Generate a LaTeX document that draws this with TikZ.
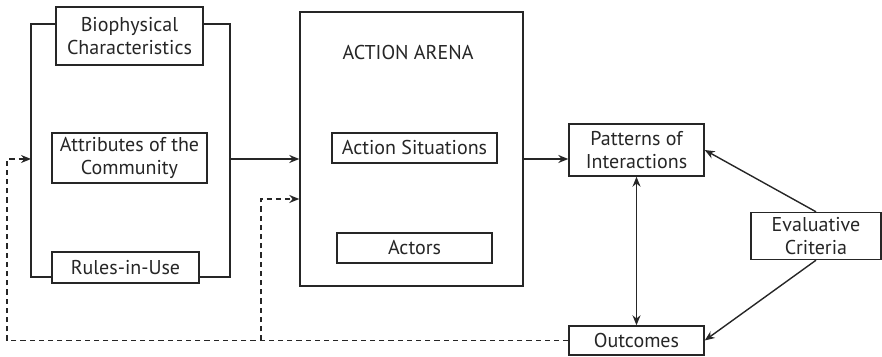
\documentclass[tikz,border=0pt]{standalone}
\usepackage{fontspec}
\setmainfont{PT Sans}
\usetikzlibrary{arrows.meta}

\tikzset{>={Stealth[length=5pt,width=4pt]},
	box/.style={draw,fill=white,align=center,inner sep=0pt,font=\fontsize{10pt}{11.5pt}\selectfont},
	feedback/.style={dash pattern=on 2.6pt off 2pt}}

\begin{document}
\begin{tikzpicture}[x=0.5pt,y=-0.5pt,line width=0.7pt,color=black!85]
		\useasboundingbox (0,0) rectangle (882,357);		% page
		
		% resource side
		\node[box,minimum width=73.5pt,minimum height=29pt] (bio) at (129.5,36) {Biophysical\\Characteristics};
		\node[box,minimum width=77.5pt,minimum height=25pt] (attr) at (129.5,158) {Attributes of the\\Community};
		\node[box,minimum width=73.5pt,minimum height=15.5pt] (rules) at (125.5,267.5) {Rules-in-Use};
		
		% bracket round the three boxes
		\coordinate (brTopL) at (31,24);
		\coordinate (brBotL) at (31,277);
		\coordinate (brTopR) at (230,24);
		\coordinate (brBotR) at (230,277);
		\coordinate (brOut) at (230,159);
		\draw (bio.west |- brTopL) -- (brTopL) -- (brBotL) -- (rules.west |- brBotL);
		\draw (bio.east |- brTopR) -- (brTopR) -- (brBotR) -- (rules.east |- brBotR);
		
		% action arena
		\node[box,minimum width=111.5pt,minimum height=137pt] (arena) at (411.5,149) {};
		\node[font=\fontsize{10pt}{12pt}\selectfont] (arenaTitle) at (408,53) {ACTION ARENA};
		\node[box,minimum width=82.5pt,minimum height=15pt] (sit) at (414.5,148) {Action Situations};
		\node[box,minimum width=77.5pt,minimum height=15pt] (actors) at (414.5,248) {Actors};
		
		% right side
		\node[box,minimum width=67.5pt,minimum height=26pt] (pat) at (636.5,150) {Patterns of\\Interactions};
		\node[box,minimum width=65pt,minimum height=23.5pt] (eval) at (816,236) {Evaluative\\Criteria};
		\node[box,minimum width=67.5pt,minimum height=14.5pt] (out) at (636.5,340.5) {Outcomes};
		
		% arrows
		\draw[->] (brOut) -- (brOut -| arena.west);
		\draw[->] (arena.east |- brOut) -- (pat.west |- brOut);
		\draw[<->] (pat.south) -- (out.north);
		\draw[->] (eval.north) -- (pat.east);
		\draw[->] (eval.south) -- (out.east);
		
		% feedback from outcomes
		\coordinate (fbLeft) at (7,159);
		\coordinate (fbMid) at (261,199);
		\draw[feedback,->] (out.west) -- (out.west -| fbLeft) -- (fbLeft) -- (brBotL |- fbLeft);
		\draw[feedback,->] (out.west -| fbMid) -- (fbMid) -- (fbMid -| arena.west);
\end{tikzpicture}
\end{document}
